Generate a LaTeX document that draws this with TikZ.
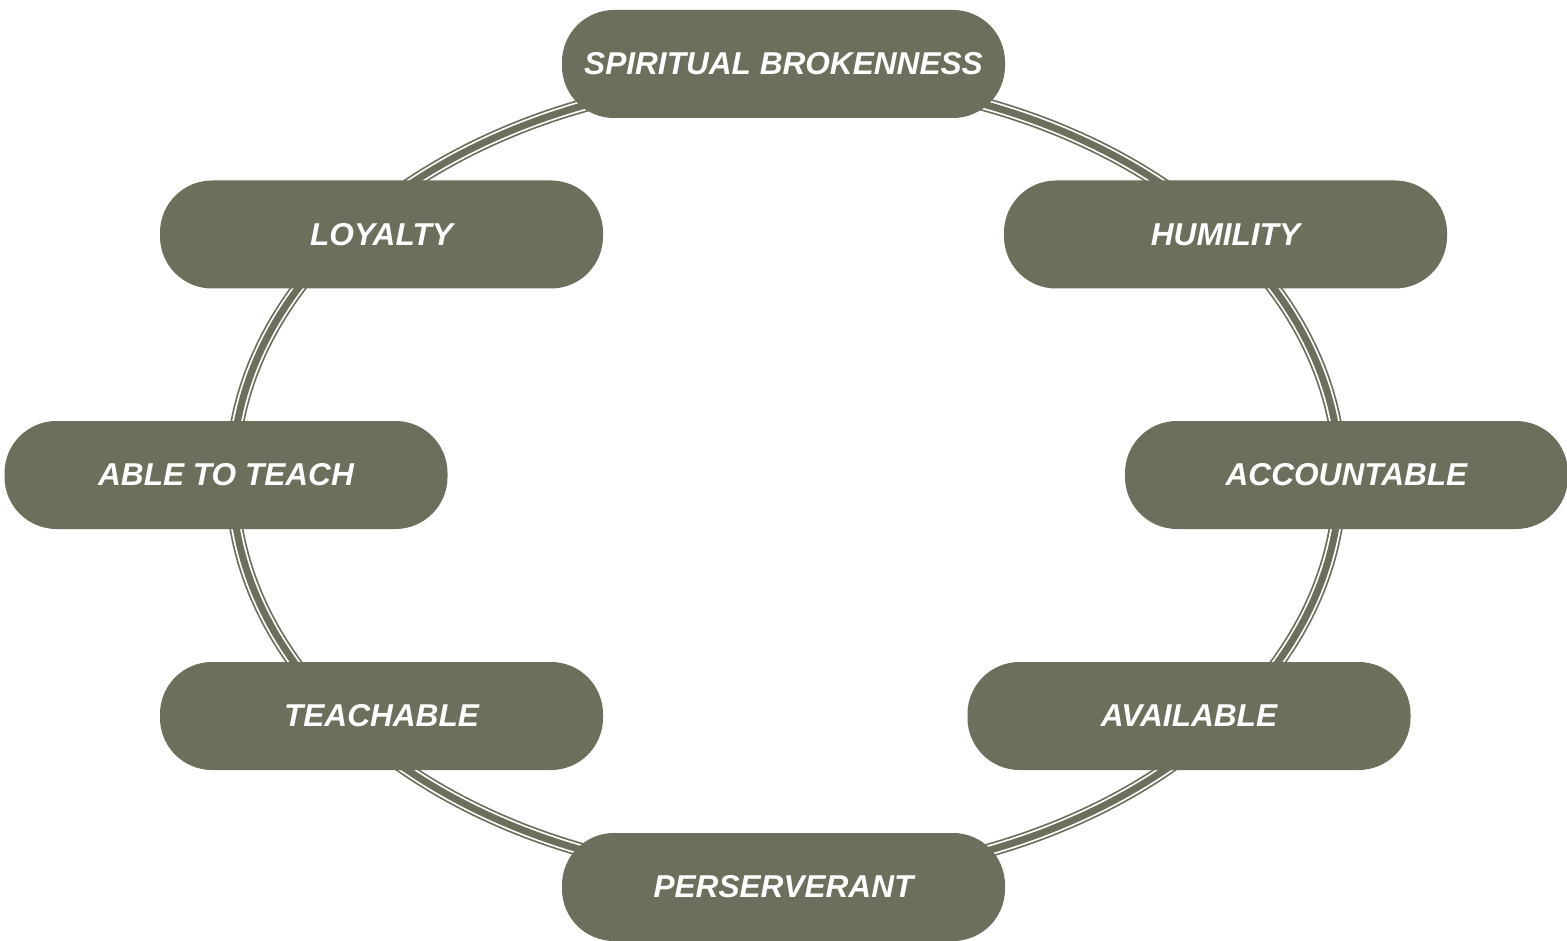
\documentclass[tikz,border=0pt]{standalone}
\usepackage{fontspec}
\setmainfont{Liberation Sans}
\definecolor{olivefill}{RGB}{107,111,91}
\begin{document}
\begin{tikzpicture}[x=1pt,y=-1pt,
  pill/.style={fill=olivefill, rounded corners=52pt, minimum width=443pt,
    minimum height=108pt, inner sep=0pt, text=white,
    font=\fontsize{31.6}{38}\selectfont\bfseries\itshape},
  ringouter/.style={draw=olivefill, line width=14pt},
  ringgap/.style={draw=white, line width=10.5pt},
  ringcore/.style={draw=olivefill, line width=7pt}]
\useasboundingbox (0,0) rectangle (1567,941);
\coordinate (c) at (786,478);
\path[ringouter] (c) ellipse [x radius=554, y radius=400];
\path[ringgap] (c) ellipse [x radius=554, y radius=400];
\path[ringcore] (c) ellipse [x radius=554, y radius=400];
\node[pill] (spirit) at (783.5,64) {SPIRITUAL BROKENNESS};
\node[pill] (loyal) at (381.5,234.5) {LOYALTY};
\node[pill] (humil) at (1225.5,234.5) {HUMILITY};
\node[pill] (able) at (226,475) {ABLE TO TEACH};
\node[pill] (account) at (1346.5,475) {ACCOUNTABLE};
\node[pill] (teachable) at (381.5,716) {TEACHABLE};
\node[pill] (avail) at (1189,716) {AVAILABLE};
\node[pill] (perse) at (783.5,887) {PERSERVERANT};
\end{tikzpicture}
\end{document}
